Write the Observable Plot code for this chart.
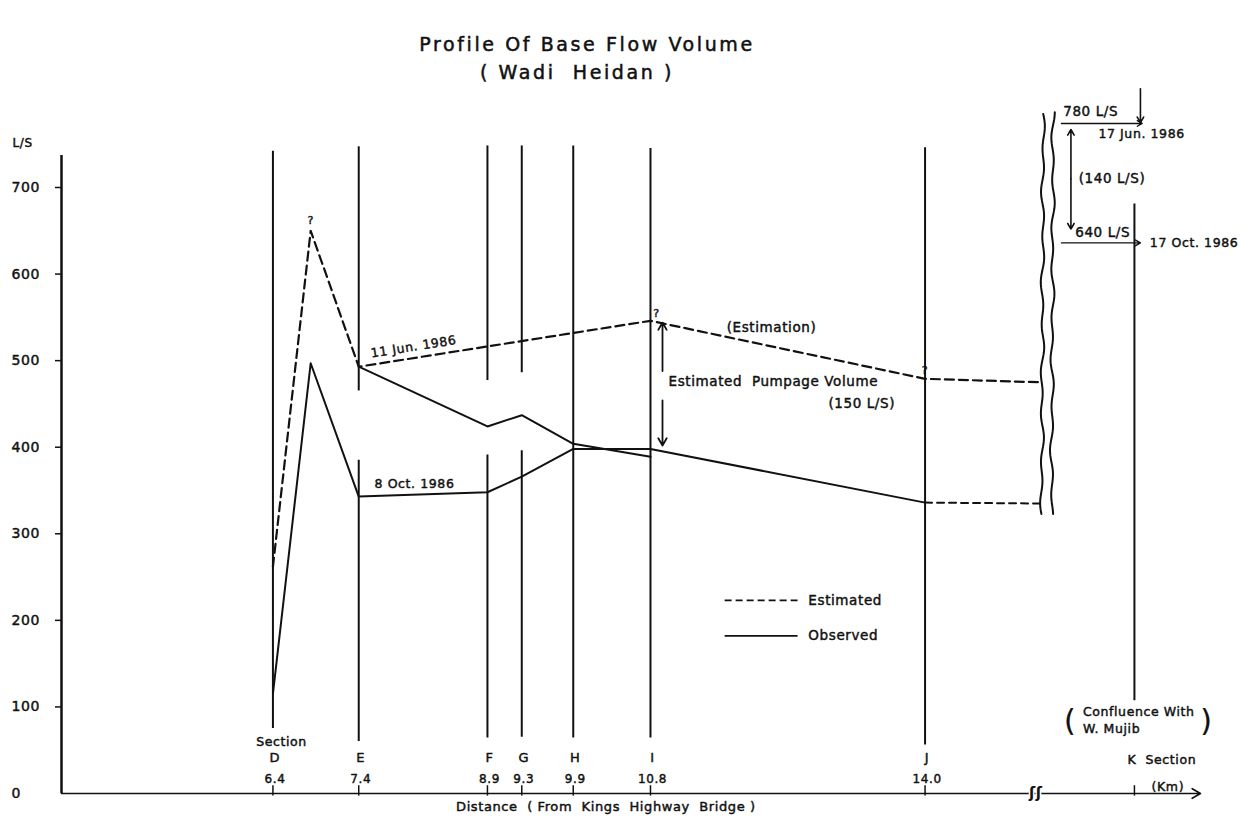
<!DOCTYPE html>
<html><head><meta charset="utf-8">
<script src="https://cdn.jsdelivr.net/npm/d3@7"></script>
<script src="https://cdn.jsdelivr.net/npm/@observablehq/plot@0.6"></script>
<style>
body{margin:0;background:#fff;font-family:"DejaVu Sans",sans-serif;color:#111;}
#title{height:84px;position:relative;width:1249px;}
#title div{position:absolute;left:0;text-align:center;font-size:19px;letter-spacing:2.6px;white-space:pre;-webkit-text-stroke:0.5px #111;}
</style></head><body>
<div id="title"><div style="top:33px;width:1174px">Profile Of Base Flow Volume</div><div style="top:61px;width:1154px">( Wadi  Heidan )</div></div>
<div id="chart"></div>
<script>
// Sections along Wadi Heidan
const sections = ["D","E","F","G","H","I","J"];
const sectionKm = [6.4, 7.4, 8.9, 9.3, 9.9, 10.8, 14.0];
const kmLabels = ["6.4","7.4","8.9","9.3","9.9","10.8","14.0"];
const yTicks = [0,100,200,300,400,500,600,700];

// 11 Jun. 1986
const junEstKm = [6.4, 6.84, 7.4, 10.8, 14.0, 15.34];
const junEstLs = [262, 650, 493, 546, 479, 475];
const junObsKm = [7.4, 8.9, 9.3, 9.9, 10.8];
const junObsLs = [493, 424, 437, 404, 389];
// 8 Oct. 1986
const octObsKm = [6.4, 6.84, 7.4, 8.9, 9.3, 9.9, 10.8, 14.0];
const octObsLs = [115, 497, 343, 348, 366, 398, 398, 336];
const octEstKm = [14.0, 15.34];
const octEstLs = [336, 335];
// Section K (confluence with W. Mujib), placed after the axis break
const confluenceKm = 16.44;
const confluenceLs = [780, 640];   // 17 Jun. 1986, 17 Oct. 1986
const pumpageLs = [546, 396];      // estimated pumpage volume 150 L/S at I

// vertical section lines (L/S extent of each drawn segment)
const sectionSpans = [
  ["D",75,742],["E",60,385],["E",465,747],["F",64,391],["F",477,748],
  ["G",65,396],["G",486,748],["H",64,748],["I",64,745],["J",56,746],["K",107,681]
];

const km = Object.fromEntries(sections.map((s,i)=>[s, sectionKm[i]])); km.K = confluenceKm;
const xMin = 3.936, xMax = 17.21, breakKm = 15.34;
const pts = (xs, ys) => xs.map((x,i)=>({x, y: ys[i]}));
const wave = (x0, x1, y0, y1, amp, ph) => d3.range(0, 1.0001, 0.006).map(t => ({
  x: x0 + (x1-x0)*t + amp*Math.sin(t*2*Math.PI*9 + ph) + amp*0.6*Math.sin(t*2*Math.PI*4 + ph*2),
  y: y0 + (y1-y0)*t}));

const dash = "9,5";
const T = (data, o) => Plot.text(data, {fontSize: 13.5, fill: "#111", stroke: "#111", strokeWidth: 0.45, ...o});

const chart = Plot.plot({
  width: 1249, height: 738,
  marginLeft: 61, marginRight: 49, marginTop: 103, marginBottom: 29,
  x: {domain: [xMin, xMax], axis: null},
  y: {domain: [0, 700], axis: null},
  style: {fontFamily: "'DejaVu Sans', sans-serif", letterSpacing: "0.6px", background: "#fff", color: "#111"},
  marks: [
    // y axis
    Plot.ruleX([xMin], {y1: 0, y2: 737, strokeWidth: 2.5}),
    Plot.ruleY(yTicks.slice(1), {x1: xMin - 0.07, x2: xMin, strokeWidth: 1.5}),
    T(yTicks, {x: xMin, y: d => d, text: d => String(d), dx: -50, textAnchor: "start", fontSize: 14}),
    T(["L/S"], {x: xMin, y: 751, dx: -49, textAnchor: "start", fontSize: 12}),
    // x axis
    Plot.arrow([0], {x1: xMin, x2: xMax, y1: 0, y2: 0, headLength: 9, strokeWidth: 1.6}),
    Plot.ruleX([...sectionKm, confluenceKm], {y1: -3, y2: 9, strokeWidth: 1.5}),
    Plot.text(["ʃʃ"], {x: breakKm - 0.05, y: 0, fontSize: 15, fontWeight: "bold", fill: "#111", stroke: "#fff", strokeWidth: 3, paintOrder: "stroke"}),
    // section verticals
    Plot.ruleX(sectionSpans, {x: d => km[d[0]], y1: d => d[1], y2: d => d[2], strokeWidth: 2}),
    // axis break (wavy)
    Plot.line(wave(15.377, 15.36, 785, 321, 0.014, 0), {x: "x", y: "y", strokeWidth: 2, curve: "linear"}),
    Plot.line(wave(15.494, 15.475, 787, 321, 0.014, 1.3), {x: "x", y: "y", strokeWidth: 2, curve: "linear"}),
    // data lines
    Plot.line(pts(junEstKm, junEstLs), {x: "x", y: "y", strokeWidth: 2.2, strokeDasharray: dash}),
    Plot.line(pts(junObsKm, junObsLs), {x: "x", y: "y", strokeWidth: 2}),
    Plot.line(pts(octObsKm, octObsLs), {x: "x", y: "y", strokeWidth: 2}),
    Plot.line(pts(octEstKm, octEstLs), {x: "x", y: "y", strokeWidth: 2, strokeDasharray: "7,5"}),
    T(["?", "?", "?"], {x: [6.84, 10.87, 14.0], y: [662, 554, 489], fontSize: 11}),
    // pumpage arrows
    Plot.arrow([0], {x1: 10.94, x2: 10.94, y1: 488, y2: pumpageLs[0] - 2, headLength: 7, strokeWidth: 1.8}),
    Plot.arrow([0], {x1: 10.94, x2: 10.94, y1: 454, y2: pumpageLs[1] + 6, headLength: 7, strokeWidth: 1.8}),
    T(["Estimated  Pumpage Volume"], {x: 11.01, y: 476, textAnchor: "start"}),
    T(["(150 L/S)"], {x: 13.65, y: 450, textAnchor: "end"}),
    T(["(Estimation)"], {x: 12.21, y: 538}),
    T(["11 Jun. 1986"], {x: 8.04, y: 516, rotate: -9, fontSize: 12.5}),
    T(["8 Oct. 1986"], {x: 8.05, y: 357, fontSize: 12.5}),
    // section labels
    T(["Section"], {x: 6.5, y: 60, fontSize: 12.5}),
    T(sections, {x: sectionKm, y: 41, dx: 2, fontSize: 13}),
    T(kmLabels, {x: sectionKm, y: 16, dx: 2, fontSize: 12, letterSpacing: "-0.4px"}),
    T(["K  Section"], {x: 16.36, y: 39, textAnchor: "start", fontSize: 12.5}),
    T(["(Km)"], {x: 16.64, y: 7, textAnchor: "start", fontSize: 12.5}),
    T(["Distance  ( From  Kings  Highway  Bridge )"], {x: 10.28, y: -15, fontSize: 13, letterSpacing: "1.1px"}),
    // confluence annotations
    Plot.arrow([0], {x1: 15.59, x2: 16.53, y1: confluenceLs[0] - 6, y2: confluenceLs[0] - 6, headLength: 6, strokeWidth: 1.4}),
    Plot.arrow([0], {x1: 16.51, x2: 16.51, y1: 814, y2: confluenceLs[0] - 5, headLength: 6, strokeWidth: 1.6}),
    Plot.arrow([0], {x1: 15.59, x2: 16.51, y1: confluenceLs[1] - 4, y2: confluenceLs[1] - 4, headLength: 6, strokeWidth: 1.4}),
    Plot.arrow([0], {x1: 15.70, x2: 15.70, y1: 710, y2: 767, headLength: 6, strokeWidth: 1.6}),
    Plot.arrow([0], {x1: 15.70, x2: 15.70, y1: 710, y2: 652, headLength: 6, strokeWidth: 1.6}),
    T([`${confluenceLs[0]} L/S`], {x: 15.61, y: 788, textAnchor: "start"}),
    T(["17 Jun. 1986"], {x: 16.02, y: 762, textAnchor: "start", fontSize: 12.5}),
    T([`(${confluenceLs[0] - confluenceLs[1]} L/S)`], {x: 15.79, y: 710, textAnchor: "start"}),
    T([`${confluenceLs[1]} L/S`], {x: 15.75, y: 648, textAnchor: "start"}),
    T(["17 Oct. 1986"], {x: 16.62, y: 636, textAnchor: "start", fontSize: 12.5}),
    T(["(", ")"], {x: [15.69, 17.28], y: 83, fontSize: 30, strokeWidth: 0.2}),
    T(["Confluence With", "W. Mujib"], {x: 15.84, y: [94, 74], textAnchor: "start", fontSize: 12.5}),
    // legend
    Plot.ruleY([223], {x1: 11.67, x2: 12.52, strokeWidth: 1.8, strokeDasharray: "7,4"}),
    Plot.ruleY([182], {x1: 11.67, x2: 12.52, strokeWidth: 1.8}),
    T(["Estimated", "Observed"], {x: 12.64, y: [223, 182], textAnchor: "start"})
  ]
});
document.getElementById("chart").appendChild(chart);
</script>
</body></html>
